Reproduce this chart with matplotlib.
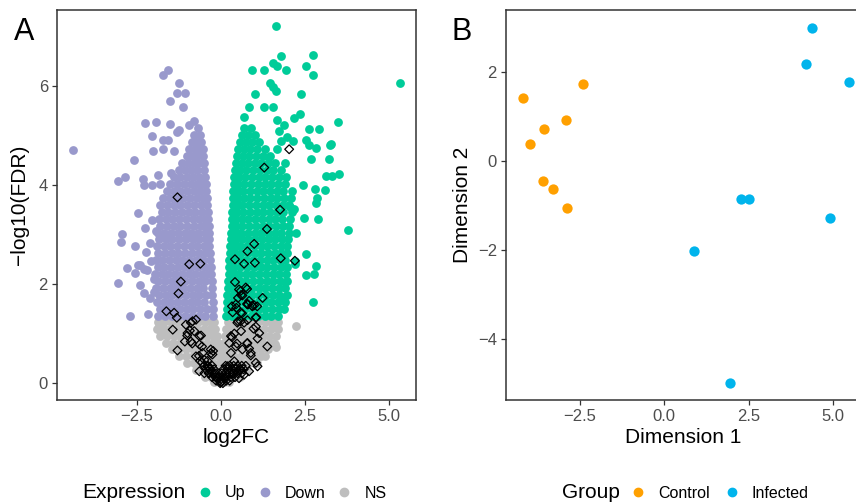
import matplotlib
matplotlib.use("Agg")
import matplotlib.pyplot as plt
from matplotlib.lines import Line2D

plt.rcParams['font.family'] = ['Liberation Sans', 'DejaVu Sans']

# ---------------- Panel A data (volcano) ----------------
# dense "Down" cloud: rows of (-log10 FDR, [log2FC values])
down_rows = [
    (1.36, [-1.86, -1.66, -1.46, -1.26, -1.06, -0.86, -0.66, -0.46, -0.22]),
    (1.50, [-1.82, -1.62, -1.42, -1.22, -1.02, -0.82, -0.62, -0.42, -0.23]),
    (1.64, [-1.90, -1.70, -1.50, -1.30, -1.10, -0.90, -0.70, -0.50, -0.24]),
    (1.78, [-1.84, -1.64, -1.44, -1.24, -1.04, -0.84, -0.64, -0.44, -0.25]),
    (1.92, [-1.92, -1.72, -1.52, -1.32, -1.12, -0.92, -0.72, -0.52, -0.27]),
    (2.06, [-1.86, -1.66, -1.46, -1.26, -1.06, -0.86, -0.66, -0.46, -0.27]),
    (2.20, [-1.96, -1.76, -1.56, -1.36, -1.16, -0.96, -0.76, -0.56, -0.38, -0.28]),
    (2.34, [-1.88, -1.68, -1.48, -1.28, -1.08, -0.88, -0.68, -0.48, -0.30]),
    (2.48, [-1.94, -1.74, -1.54, -1.34, -1.14, -0.94, -0.74, -0.54, -0.32]),
    (2.62, [-1.86, -1.66, -1.46, -1.26, -1.06, -0.86, -0.66, -0.46, -0.32]),
    (2.76, [-1.90, -1.70, -1.50, -1.30, -1.10, -0.90, -0.70, -0.50, -0.34]),
    (2.90, [-1.84, -1.64, -1.44, -1.24, -1.04, -0.84, -0.64, -0.44, -0.34]),
    (3.04, [-1.88, -1.68, -1.48, -1.28, -1.08, -0.88, -0.68, -0.48, -0.35]),
    (3.18, [-1.80, -1.60, -1.40, -1.20, -1.00, -0.80, -0.60, -0.44, -0.36]),
    (3.32, [-1.84, -1.64, -1.44, -1.24, -1.04, -0.84, -0.64, -0.46, -0.37]),
    (3.46, [-1.76, -1.56, -1.36, -1.16, -0.96, -0.76, -0.56, -0.39]),
    (3.60, [-1.80, -1.60, -1.40, -1.20, -1.00, -0.80, -0.60, -0.41]),
    (3.74, [-1.72, -1.52, -1.32, -1.12, -0.92, -0.72, -0.54, -0.42]),
    (3.88, [-1.60, -1.40, -1.20, -1.00, -0.80, -0.62, -0.44]),
    (4.02, [-1.50, -1.30, -1.10, -0.90, -0.72, -0.56, -0.44]),
    (4.16, [-1.40, -1.20, -1.00, -0.82, -0.64, -0.46]),
    (4.30, [-1.24, -1.06, -0.88, -0.70, -0.50]),
    (4.44, [-1.16, -0.98, -0.80, -0.64, -0.50]),
    (4.58, [-1.02, -0.86, -0.70, -0.54]),
    (4.72, [-0.94, -0.78, -0.62, -0.54]),
    (4.86, [-0.86, -0.70, -0.58]),
    (5.00, [-0.80, -0.62]),
]
down_x = [-1.58, -1.73, -1.24, -1.31, -1.06, -1.51, -1.12, -2.25, -1.93, -1.51, -4.38,
          -2.06, -1.73, -1.58, -1.24, -1.30, -0.94, -0.81, -0.69, -2.01, -1.71, -1.39,
          -2.59, -2.84, -3.05, -2.32, -2.27, -2.06, -1.80, -1.88, -1.48, -2.47, -2.94,
          -2.97, -2.55, -2.23, -2.10, -2.80, -2.55, -2.39, -2.20, -3.07, -2.41, -2.28,
          -2.10, -2.70, -2.17, -2.25, -2.06, -1.93, -2.08, -1.98, -2.00, -2.45, -2.27]
down_y = [6.32, 6.21, 6.05, 5.85, 5.85, 5.70, 5.58, 5.25, 5.26, 5.23, 4.71,
          4.98, 4.90, 4.91, 5.10, 5.06, 5.21, 5.29, 5.15, 4.69, 4.72, 4.68,
          4.51, 4.16, 4.07, 4.11, 3.99, 4.00, 4.02, 4.20, 4.24, 3.43, 3.00,
          2.84, 2.77, 2.65, 2.83, 2.32, 2.23, 2.38, 2.28, 2.03, 1.99, 1.81,
          1.72, 1.35, 1.39, 3.13, 3.29, 3.08, 2.47, 1.83, 2.10, 2.38, 2.30]

up_rows = [
    (1.36, [0.16, 0.33, 0.50, 0.70, 0.90, 1.10, 1.30, 1.50, 1.70]),
    (1.50, [0.17, 0.34, 0.52, 0.72, 0.92, 1.12, 1.32, 1.52, 1.72, 1.88]),
    (1.64, [0.18, 0.34, 0.50, 0.70, 0.90, 1.10, 1.30, 1.50, 1.70, 1.92]),
    (1.78, [0.19, 0.36, 0.54, 0.74, 0.94, 1.14, 1.34, 1.54, 1.74, 1.96]),
    (1.92, [0.20, 0.36, 0.52, 0.72, 0.92, 1.12, 1.32, 1.52, 1.72, 1.90]),
    (2.06, [0.22, 0.38, 0.56, 0.76, 0.96, 1.16, 1.36, 1.56, 1.76, 1.96]),
    (2.20, [0.23, 0.38, 0.54, 0.74, 0.94, 1.14, 1.34, 1.54, 1.74, 1.94]),
    (2.34, [0.24, 0.40, 0.58, 0.78, 0.98, 1.18, 1.38, 1.58, 1.78, 1.98]),
    (2.48, [0.25, 0.40, 0.56, 0.76, 0.96, 1.16, 1.36, 1.56, 1.76, 1.92]),
    (2.62, [0.27, 0.42, 0.60, 0.80, 1.00, 1.20, 1.40, 1.60, 1.80, 1.98]),
    (2.76, [0.28, 0.42, 0.58, 0.78, 0.98, 1.18, 1.38, 1.58, 1.78, 1.96]),
    (2.90, [0.30, 0.44, 0.62, 0.82, 1.02, 1.22, 1.42, 1.62, 1.82, 2.00]),
    (3.04, [0.31, 0.44, 0.60, 0.80, 1.00, 1.20, 1.40, 1.60, 1.80, 2.02]),
    (3.18, [0.32, 0.46, 0.64, 0.84, 1.04, 1.24, 1.44, 1.64, 1.84, 2.04]),
    (3.32, [0.33, 0.46, 0.62, 0.82, 1.02, 1.22, 1.42, 1.62, 1.82, 2.06]),
    (3.46, [0.34, 0.48, 0.66, 0.86, 1.06, 1.26, 1.46, 1.66, 1.86, 2.10]),
    (3.60, [0.35, 0.48, 0.64, 0.84, 1.04, 1.24, 1.44, 1.64, 1.84, 2.04]),
    (3.74, [0.36, 0.50, 0.68, 0.88, 1.08, 1.28, 1.48, 1.68, 1.88, 2.08]),
    (3.88, [0.37, 0.50, 0.66, 0.86, 1.06, 1.26, 1.46, 1.66, 1.86, 2.12]),
    (4.02, [0.38, 0.52, 0.70, 0.90, 1.10, 1.30, 1.50, 1.70, 1.90]),
    (4.16, [0.40, 0.54, 0.72, 0.92, 1.12, 1.32, 1.52, 1.72, 1.94]),
    (4.30, [0.42, 0.58, 0.76, 0.96, 1.16, 1.36, 1.56, 1.78]),
    (4.44, [0.45, 0.62, 0.80, 1.00, 1.20, 1.40, 1.62, 1.90]),
    (4.58, [0.48, 0.66, 0.84, 1.04, 1.24, 1.46]),
    (4.72, [0.52, 0.68, 0.88, 1.08, 1.30]),
    (4.86, [0.56, 0.74, 0.94, 1.14]),
    (5.00, [0.62, 0.80, 1.00]),
    (5.14, [0.68, 0.90]),
]
up_x = [1.64, 1.80, 2.74, 0.93, 1.28, 1.55, 1.66, 1.95, 2.54, 2.74, 5.32, 1.46, 1.55,
        1.64, 1.02, 2.37, 0.84, 1.27, 1.54, 0.69, 2.34, 2.17, 1.68, 3.47, 1.88, 1.73,
        2.61, 2.91, 1.96, 2.15, 1.80, 2.52, 2.62, 2.84, 3.24, 3.28, 2.67, 3.20, 1.68,
        1.43, 3.12, 3.31, 3.51, 2.45, 2.79, 3.09, 2.87, 2.84, 2.47, 2.88, 3.78, 2.23,
        2.16, 2.06, 2.53, 2.84, 2.54, 2.77, 2.20, 2.20, 1.91, 2.75, 1.88]
up_y = [7.20, 6.60, 6.63, 6.32, 6.32, 6.47, 6.39, 6.32, 6.39, 6.21, 6.05, 6.05, 5.97,
        5.90, 5.83, 5.83, 5.58, 5.57, 5.58, 5.37, 5.44, 5.36, 5.31, 5.27, 5.21, 5.09,
        5.13, 5.12, 4.97, 4.88, 4.88, 4.90, 4.80, 4.75, 4.81, 4.82, 4.53, 4.52, 4.73,
        4.56, 4.18, 4.19, 4.22, 3.99, 3.91, 3.89, 3.73, 3.64, 3.33, 3.31, 3.10, 3.04,
        3.52, 3.55, 2.60, 2.37, 2.18, 2.20, 2.47, 2.40, 2.04, 1.64, 1.74]

ns_rows = [
    (1.24, [-1.88, -1.68, -1.48, -1.28, -1.08, -0.88, -0.68, -0.48, -0.30, -0.20,
            0.20, 0.32, 0.50, 0.70, 0.90, 1.10, 1.30, 1.50, 1.70]),
    (1.10, [-1.90, -1.70, -1.50, -1.30, -1.10, -0.90, -0.70, -0.50, -0.32, -0.17,
            0.16, 0.30, 0.48, 0.68, 0.88, 1.08, 1.28, 1.48, 1.70]),
    (0.96, [-1.80, -1.60, -1.40, -1.20, -1.00, -0.80, -0.60, -0.40, -0.24, -0.12,
            0.11, 0.26, 0.44, 0.64, 0.84, 1.04, 1.24, 1.44, 1.64]),
    (0.82, [-1.62, -1.42, -1.22, -1.02, -0.82, -0.62, -0.42, -0.24, -0.08, 0.08,
            0.26, 0.46, 0.66, 0.86, 1.06, 1.26, 1.46, 1.56]),
    (0.68, [-1.44, -1.24, -1.04, -0.84, -0.64, -0.44, -0.26, -0.08, 0.06, 0.22,
            0.40, 0.60, 0.80, 1.00, 1.20, 1.40]),
    (0.54, [-1.24, -1.04, -0.84, -0.64, -0.44, -0.26, -0.08, 0.06, 0.22, 0.40,
            0.60, 0.80, 1.00, 1.20, 1.30]),
    (0.40, [-1.00, -0.80, -0.60, -0.40, -0.22, -0.04, 0.10, 0.26, 0.44, 0.64, 0.84, 1.06]),
    (0.26, [-0.74, -0.54, -0.34, -0.16, 0.02, 0.18, 0.36, 0.56, 0.78]),
    (0.13, [-0.46, -0.28, -0.10, 0.04, 0.20, 0.38, 0.56]),
    (0.03, [-0.20, -0.06, 0.08, 0.24]),
]
ns_x = [1.63, 2.23, 1.60, 1.63, -1.80, -1.85, -1.78]
ns_y = [1.16, 1.15, 0.78, 0.72, 1.12, 1.15, 1.05]

# highlighted genes (open diamonds)
hl_x = [-1.29, 1.29, 2.03, 1.76, 1.37, 0.99, 0.79, 0.42, 0.69, 1.01, 1.78, 2.20, -0.94,
        -0.61, -1.19, -1.26, -1.62, -1.39, 0.42, 0.54, 0.78, 0.60, 0.51, 0.84, 0.78, 0.99,
        1.08, 1.24, 0.33, 0.46, 0.35, 0.63, 1.04, 0.59, 0.74, 0.64, 0.93, 0.81,
        -1.43, -1.29, -1.07, -1.00, -0.85, -0.92, -0.74, -0.84, -0.59, -0.56, -0.65, -0.62,
        -0.30, -0.23, -0.40, -0.35, -0.20, -0.10, 0.00, -1.31, -1.04, -0.89, -0.99, -0.79,
        -0.64, -0.89, -0.64, -0.54, -0.74, -0.49, -0.30, -0.25, -0.40, -0.64, -0.49, -0.35,
        0.30, 0.40, 0.49, 0.59, 0.45, 0.79, 0.94, 0.59, 0.69, 1.04, 1.14, 1.38, 0.79, 0.64,
        0.89, 1.04, 1.09, 0.84, 0.59, 0.40, 0.30, 0.45, 0.25, 0.20, 0.35, 0.69, 0.54, 0.10,
        0.33, 0.48, 0.60, 0.78, 0.84, 0.89, 0.97, 1.09, 0.51, 0.79, 1.05, -0.56,
        -0.50, -0.38, -0.26, 0.14, 0.26, 0.38, 0.50, 0.62, 0.74,
        -0.44, -0.32, -0.20, 0.08, 0.20, 0.32, 0.44, 0.56, 0.68,
        -0.36, -0.26, -0.14, 0.02, 0.14, 0.26, 0.38, 0.50, 0.62,
        -0.26, -0.16, -0.06, 0.06, 0.18, 0.30, 0.42,
        -0.14, -0.04, 0.06, 0.16, 0.26, -0.02, 0.06]
hl_y = [3.75, 4.35, 4.72, 3.50, 3.11, 2.81, 2.66, 2.50, 2.41, 2.43, 2.52, 2.47, 2.40,
        2.41, 2.05, 1.81, 1.45, 1.42, 2.04, 1.89, 1.90, 1.78, 1.72, 1.66, 1.60, 1.57,
        1.55, 1.72, 1.55, 1.52, 1.43, 1.41, 1.32, 1.86, 1.93, 1.77, 1.56, 1.59,
        1.08, 0.66, 0.84, 0.96, 0.80, 1.06, 1.28, 1.25, 0.96, 0.74, 0.55, 0.45,
        0.60, 0.65, 0.45, 0.32, 0.20, 0.10, 0.02, 1.32, 1.18, 1.22, 1.01, 1.05,
        0.95, 0.84, 0.78, 0.61, 0.54, 0.47, 0.68, 0.58, 0.34, 0.24, 0.20, 0.20,
        0.95, 1.00, 1.22, 1.25, 1.59, 1.59, 1.55, 1.42, 1.22, 1.14, 1.01, 0.74, 0.81, 0.68,
        0.61, 0.41, 0.34, 0.24, 0.27, 0.44, 0.61, 0.74, 0.81, 0.34, 0.20, 0.17, 0.10, 0.10,
        0.93, 0.80, 1.05, 0.80, 0.70, 0.56, 1.10, 0.90, 1.25, 1.27, 1.33, 0.42,
        0.35, 0.35, 0.35, 0.35, 0.35, 0.35, 0.35, 0.35, 0.35,
        0.28, 0.28, 0.28, 0.28, 0.28, 0.28, 0.28, 0.28, 0.28,
        0.20, 0.20, 0.20, 0.20, 0.20, 0.20, 0.20, 0.20, 0.20,
        0.12, 0.12, 0.12, 0.12, 0.12, 0.12, 0.12,
        0.05, 0.05, 0.05, 0.05, 0.05, 0.00, 0.00]

# ---------------- Panel B data (MDS) ----------------
control_x = [-4.21, -3.98, -3.56, -2.93, -2.40, -3.59, -3.29, -2.90]
control_y = [1.41, 0.37, 0.72, 0.92, 1.73, -0.46, -0.64, -1.05]
infected_x = [4.39, 4.20, 5.49, 2.28, 2.50, 4.91, 0.88, 1.96]
infected_y = [2.97, 2.17, 1.77, -0.86, -0.86, -1.28, -2.02, -4.98]

col_up = '#00CC99'
col_down = '#9999CC'
col_ns = '#BEBEBE'
col_ctrl = '#FFA000'
col_inf = '#00B4EC'


def flatten(rows, ex, ey):
    xs, ys = [], []
    for y, row in rows:
        for x in row:
            xs.append(x)
            ys.append(y)
    return xs + ex, ys + ey


W, H = 856, 504
fig = plt.figure(figsize=(W / 100, H / 100), dpi=100)
axA = fig.add_axes([57 / W, 1 - 400 / H, (416 - 57) / W, 390 / H])
axB = fig.add_axes([506 / W, 1 - 400 / H, (860 - 506) / W, 390 / H])

spine_col = '#333333'
for ax in (axA, axB):
    for s in ax.spines.values():
        s.set_color(spine_col)
        s.set_linewidth(1.1)
    ax.tick_params(direction='out', length=3.5, width=0.9, color=spine_col,
                   labelsize=12, labelcolor='#4D4D4D', pad=3)

sz = 40
nx, ny = flatten(ns_rows, ns_x, ns_y)
axA.scatter(nx, ny, s=sz, color=col_ns, linewidths=0, zorder=2)
dx, dy = flatten(down_rows, down_x, down_y)
axA.scatter(dx, dy, s=sz, color=col_down, linewidths=0, zorder=2)
ux, uy = flatten(up_rows, up_x, up_y)
axA.scatter(ux, uy, s=sz, color=col_up, linewidths=0, zorder=2)
axA.scatter(hl_x, hl_y, s=20, marker='D', facecolors='none', edgecolors='black',
            linewidths=0.9, zorder=3)
axA.set_xlim(-4.87, 5.80)
axA.set_ylim(-0.34, 7.53)
axA.set_xticks([-2.5, 0.0, 2.5, 5.0])
axA.set_xticklabels(['\u22122.5', '0.0', '2.5', '5.0'])
axA.set_yticks([0, 2, 4, 6])
axA.set_xlabel('log2FC', fontsize=15, labelpad=3)
axA.set_ylabel('\u2212log10(FDR)', fontsize=15, labelpad=7)

axB.scatter(control_x, control_y, s=55, color=col_ctrl, linewidths=0, zorder=2)
axB.scatter(infected_x, infected_y, s=55, color=col_inf, linewidths=0, zorder=2)
axB.set_xlim(-4.70, 5.81)
axB.set_ylim(-5.36, 3.38)
axB.set_xticks([-2.5, 0.0, 2.5, 5.0])
axB.set_xticklabels(['\u22122.5', '0.0', '2.5', '5.0'])
axB.set_yticks([-4, -2, 0, 2])
axB.set_yticklabels(['\u22124', '\u22122', '0', '2'])
axB.set_xlabel('Dimension 1', fontsize=15, labelpad=3)
axB.set_ylabel('Dimension 2', fontsize=15, labelpad=4)

fig.text(14 / W, 1 - 32 / H, 'A', fontsize=22, va='center', ha='left')
fig.text(452 / W, 1 - 32 / H, 'B', fontsize=22, va='center', ha='left')

# legends
ly = 1 - 493 / H
fig.text(82 / W, ly, 'Expression', fontsize=15, va='center', ha='left')
h1 = [Line2D([], [], marker='o', ls='', color=c, markersize=6) for c in (col_up, col_down, col_ns)]
fig.legend(h1, ['Up', 'Down', 'NS'], loc='center left', bbox_to_anchor=(197 / W, ly),
           ncol=3, frameon=False, fontsize=11.5, handlelength=1.0, handletextpad=0.75,
           columnspacing=0.7, borderpad=0, borderaxespad=0)
fig.text(562 / W, ly, 'Group', fontsize=15, va='center', ha='left')
h2 = [Line2D([], [], marker='o', ls='', color=c, markersize=6) for c in (col_ctrl, col_inf)]
fig.legend(h2, ['Control', 'Infected'], loc='center left', bbox_to_anchor=(630 / W, ly),
           ncol=2, frameon=False, fontsize=11.5, handlelength=1.0, handletextpad=0.75,
           columnspacing=0.9, borderpad=0, borderaxespad=0)

fig.savefig('out.png', dpi=100)
